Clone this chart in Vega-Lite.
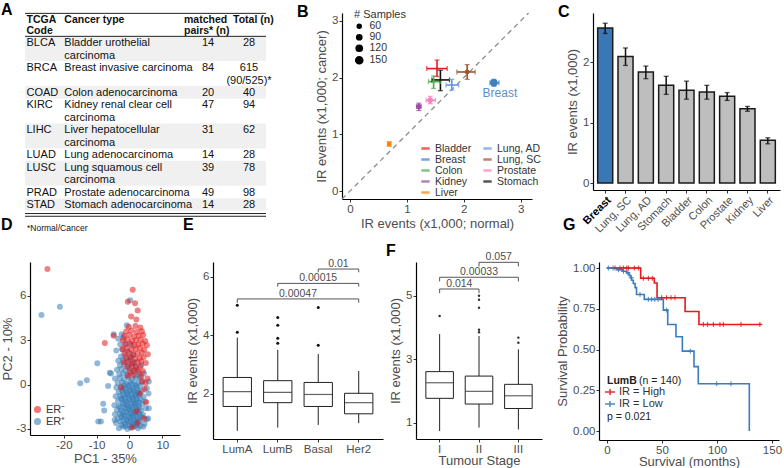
{
"$schema": "https://vega.github.io/schema/vega-lite/v6.json",
"background": "white",
"padding": {"left": 1, "top": 1, "right": 0, "bottom": 0},
"config": {
 "font": "Liberation Sans",
 "view": {"stroke": null},
 "axis": {"domainColor": "#000", "domainWidth": 1.2, "tickColor": "#333", "tickSize": 3, "tickWidth": 1, "labelColor": "#4d4d4d", "labelFontSize": 11.5, "labelPadding": 1, "labelFlush": false, "labelOverlap": false, "titleFontSize": 13, "titleFontWeight": "normal", "titleColor": "#4d4d4d", "titlePadding": 3, "grid": false},
 "legend": {"labelColor": "#333", "labelFontSize": 11, "titleColor": "#333", "titleFontSize": 11, "titleFontWeight": "normal"},
 "title": {"fontSize": 16, "fontWeight": "bold", "anchor": "start", "frame": "group", "offset": 0, "baseline": "alphabetic", "color": "#000"}
},
"datasets": {
 "hdr": [
  {"t": "TCGA", "col": "code", "pos": -1.84}, {"t": "Code", "col": "code", "pos": -0.99},
  {"t": "Cancer type", "col": "type", "pos": -1.84},
  {"t": "matched", "col": "pairs", "pos": -1.84}, {"t": "pairs* (n)", "col": "pairs", "pos": -0.99},
  {"t": "Total (n)", "col": "total", "pos": -1.84}
 ],
 "tcga": [
  {"code": "BLCA", "n1": "Bladder urothelial", "n2": "carcinoma", "pairs": 14, "t1": "28", "t2": "", "line": 0},
  {"code": "BRCA", "n1": "Breast invasive carcinoma", "n2": "", "pairs": 84, "t1": "615", "t2": "(90/525)*", "line": 2},
  {"code": "COAD", "n1": "Colon adenocarcinoma", "n2": "", "pairs": 20, "t1": "40", "t2": "", "line": 4},
  {"code": "KIRC", "n1": "Kidney renal clear cell", "n2": "carcinoma", "pairs": 47, "t1": "94", "t2": "", "line": 5},
  {"code": "LIHC", "n1": "Liver hepatocellular", "n2": "carcinoma", "pairs": 31, "t1": "62", "t2": "", "line": 7},
  {"code": "LUAD", "n1": "Lung adenocarcinoma", "n2": "", "pairs": 14, "t1": "28", "t2": "", "line": 9},
  {"code": "LUSC", "n1": "Lung squamous cell", "n2": "carcinoma", "pairs": 39, "t1": "78", "t2": "", "line": 10},
  {"code": "PRAD", "n1": "Prostate adenocarcinoma", "n2": "", "pairs": 49, "t1": "98", "t2": "", "line": 12},
  {"code": "STAD", "n1": "Stomach adenocarcinoma", "n2": "", "pairs": 14, "t1": "28", "t2": "", "line": 13}
 ],
 "bdat": [
  {"type": "Bladder", "nx": 1.53, "nxlo": 1.35, "nxhi": 1.71, "cy": 2.16, "cylo": 2.02, "cyhi": 2.31, "n": 28},
  {"type": "Breast", "nx": 2.53, "nxlo": 2.46, "nxhi": 2.62, "cy": 1.91, "cylo": 1.85, "cyhi": 1.97, "n": 168},
  {"type": "Colon", "nx": 1.47, "nxlo": 1.38, "nxhi": 1.59, "cy": 1.93, "cylo": 1.81, "cyhi": 2.03, "n": 40},
  {"type": "Kidney", "nx": 1.21, "nxlo": 1.17, "nxhi": 1.25, "cy": 1.49, "cylo": 1.42, "cyhi": 1.55, "n": 94},
  {"type": "Liver", "nx": 0.69, "nxlo": 0.66, "nxhi": 0.72, "cy": 0.83, "cylo": 0.79, "cyhi": 0.87, "n": 62},
  {"type": "Lung, AD", "nx": 1.79, "nxlo": 1.69, "nxhi": 1.91, "cy": 1.87, "cylo": 1.78, "cyhi": 1.97, "n": 28},
  {"type": "Lung, SC", "nx": 2.06, "nxlo": 1.88, "nxhi": 2.2, "cy": 2.1, "cylo": 1.97, "cyhi": 2.23, "n": 78},
  {"type": "Prostate", "nx": 1.41, "nxlo": 1.34, "nxhi": 1.5, "cy": 1.6, "cylo": 1.54, "cyhi": 1.67, "n": 98},
  {"type": "Stomach", "nx": 1.59, "nxlo": 1.44, "nxhi": 1.75, "cy": 1.96, "cylo": 1.77, "cyhi": 2.13, "n": 28}
 ],
 "cdat": [
  {"type": "Breast", "v": 2.57, "lo": 2.48, "hi": 2.65},
  {"type": "Lung, SC", "v": 2.1, "lo": 1.95, "hi": 2.24},
  {"type": "Lung, AD", "v": 1.84, "lo": 1.73, "hi": 1.94},
  {"type": "Stomach", "v": 1.62, "lo": 1.47, "hi": 1.77},
  {"type": "Bladder", "v": 1.54, "lo": 1.39, "hi": 1.69},
  {"type": "Colon", "v": 1.51, "lo": 1.39, "hi": 1.62},
  {"type": "Prostate", "v": 1.44, "lo": 1.37, "hi": 1.5},
  {"type": "Kidney", "v": 1.23, "lo": 1.19, "hi": 1.27},
  {"type": "Liver", "v": 0.71, "lo": 0.65, "hi": 0.75}
 ],
 "pca": [
  {"pc1":-3.2,"pc2":-2.95,"er":"ER⁺"},{"pc1":-1.8,"pc2":-2.85,"er":"ER⁺"},{"pc1":-0.6,"pc2":-3.0,"er":"ER⁺"},{"pc1":0.4,"pc2":-2.9,"er":"ER⁺"},{"pc1":1.5,"pc2":-2.8,"er":"ER⁺"},{"pc1":2.6,"pc2":-2.95,"er":"ER⁺"},{"pc1":4.2,"pc2":-2.85,"er":"ER⁺"},
  {"pc1":-4.1,"pc2":-2.6,"er":"ER⁺"},{"pc1":-2.7,"pc2":-2.5,"er":"ER⁺"},{"pc1":-1.3,"pc2":-2.65,"er":"ER⁺"},{"pc1":-0.2,"pc2":-2.55,"er":"ER⁺"},{"pc1":0.9,"pc2":-2.7,"er":"ER⁺"},{"pc1":2.0,"pc2":-2.6,"er":"ER⁺"},{"pc1":3.1,"pc2":-2.5,"er":"ER⁺"},{"pc1":4.6,"pc2":-2.65,"er":"ER⁺"},
  {"pc1":-3.6,"pc2":-2.3,"er":"ER⁺"},{"pc1":-2.2,"pc2":-2.2,"er":"ER⁺"},{"pc1":-0.9,"pc2":-2.35,"er":"ER⁺"},{"pc1":0.3,"pc2":-2.25,"er":"ER⁺"},{"pc1":1.4,"pc2":-2.4,"er":"ER⁺"},{"pc1":2.5,"pc2":-2.3,"er":"ER⁺"},{"pc1":3.8,"pc2":-2.2,"er":"ER⁺"},{"pc1":5.2,"pc2":-2.35,"er":"ER⁺"},
  {"pc1":-4.4,"pc2":-2.0,"er":"ER⁺"},{"pc1":-3.0,"pc2":-1.95,"er":"ER⁺"},{"pc1":-1.7,"pc2":-2.05,"er":"ER⁺"},{"pc1":-0.5,"pc2":-1.9,"er":"ER⁺"},{"pc1":0.6,"pc2":-2.1,"er":"ER⁺"},{"pc1":1.8,"pc2":-2.0,"er":"ER⁺"},{"pc1":2.9,"pc2":-1.9,"er":"ER⁺"},{"pc1":4.1,"pc2":-2.05,"er":"ER⁺"},
  {"pc1":-3.8,"pc2":-1.7,"er":"ER⁺"},{"pc1":-2.5,"pc2":-1.75,"er":"ER⁺"},{"pc1":-1.1,"pc2":-1.6,"er":"ER⁺"},{"pc1":0.1,"pc2":-1.7,"er":"ER⁺"},{"pc1":1.2,"pc2":-1.8,"er":"ER⁺"},{"pc1":2.3,"pc2":-1.65,"er":"ER⁺"},{"pc1":3.5,"pc2":-1.75,"er":"ER⁺"},{"pc1":5.0,"pc2":-1.6,"er":"ER⁺"},
  {"pc1":-4.6,"pc2":-1.4,"er":"ER⁺"},{"pc1":-3.2,"pc2":-1.45,"er":"ER⁺"},{"pc1":-2.0,"pc2":-1.3,"er":"ER⁺"},{"pc1":-0.7,"pc2":-1.4,"er":"ER⁺"},{"pc1":0.5,"pc2":-1.5,"er":"ER⁺"},{"pc1":1.6,"pc2":-1.35,"er":"ER⁺"},{"pc1":2.7,"pc2":-1.45,"er":"ER⁺"},{"pc1":3.9,"pc2":-1.3,"er":"ER⁺"},
  {"pc1":-3.5,"pc2":-1.1,"er":"ER⁺"},{"pc1":-2.3,"pc2":-1.0,"er":"ER⁺"},{"pc1":-1.0,"pc2":-1.15,"er":"ER⁺"},{"pc1":0.2,"pc2":-1.05,"er":"ER⁺"},{"pc1":1.3,"pc2":-1.2,"er":"ER⁺"},{"pc1":2.4,"pc2":-1.1,"er":"ER⁺"},{"pc1":3.4,"pc2":-1.0,"er":"ER⁺"},{"pc1":4.8,"pc2":-1.15,"er":"ER⁺"},
  {"pc1":-4.2,"pc2":-0.8,"er":"ER⁺"},{"pc1":-2.8,"pc2":-0.75,"er":"ER⁺"},{"pc1":-1.5,"pc2":-0.85,"er":"ER⁺"},{"pc1":-0.3,"pc2":-0.7,"er":"ER⁺"},{"pc1":0.8,"pc2":-0.9,"er":"ER⁺"},{"pc1":1.9,"pc2":-0.8,"er":"ER⁺"},{"pc1":3.0,"pc2":-0.7,"er":"ER⁺"},{"pc1":4.3,"pc2":-0.85,"er":"ER⁺"},
  {"pc1":-3.3,"pc2":-0.5,"er":"ER⁺"},{"pc1":-2.0,"pc2":-0.45,"er":"ER⁺"},{"pc1":-0.8,"pc2":-0.55,"er":"ER⁺"},{"pc1":0.4,"pc2":-0.4,"er":"ER⁺"},{"pc1":1.5,"pc2":-0.6,"er":"ER⁺"},{"pc1":2.6,"pc2":-0.5,"er":"ER⁺"},{"pc1":3.8,"pc2":-0.45,"er":"ER⁺"},
  {"pc1":-4.0,"pc2":-0.2,"er":"ER⁺"},{"pc1":-2.6,"pc2":-0.15,"er":"ER⁺"},{"pc1":-1.3,"pc2":-0.25,"er":"ER⁺"},{"pc1":-0.1,"pc2":-0.1,"er":"ER⁺"},{"pc1":1.0,"pc2":-0.3,"er":"ER⁺"},{"pc1":2.2,"pc2":-0.2,"er":"ER⁺"},{"pc1":3.3,"pc2":-0.1,"er":"ER⁺"},{"pc1":5.3,"pc2":-0.25,"er":"ER⁺"},
  {"pc1":-3.6,"pc2":0.1,"er":"ER⁺"},{"pc1":-2.2,"pc2":0.15,"er":"ER⁺"},{"pc1":-0.9,"pc2":0.05,"er":"ER⁺"},{"pc1":0.3,"pc2":0.2,"er":"ER⁺"},{"pc1":1.5,"pc2":0.0,"er":"ER⁺"},{"pc1":2.7,"pc2":0.1,"er":"ER⁺"},{"pc1":4.0,"pc2":0.2,"er":"ER⁺"},
  {"pc1":-4.4,"pc2":0.4,"er":"ER⁺"},{"pc1":-2.9,"pc2":0.45,"er":"ER⁺"},{"pc1":-1.6,"pc2":0.35,"er":"ER⁺"},{"pc1":-0.4,"pc2":0.5,"er":"ER⁺"},{"pc1":0.8,"pc2":0.3,"er":"ER⁺"},{"pc1":2.0,"pc2":0.4,"er":"ER⁺"},{"pc1":3.2,"pc2":0.5,"er":"ER⁺"},
  {"pc1":-3.1,"pc2":0.7,"er":"ER⁺"},{"pc1":-1.9,"pc2":0.75,"er":"ER⁺"},{"pc1":-0.7,"pc2":0.65,"er":"ER⁺"},{"pc1":0.5,"pc2":0.8,"er":"ER⁺"},{"pc1":1.7,"pc2":0.6,"er":"ER⁺"},{"pc1":2.9,"pc2":0.7,"er":"ER⁺"},{"pc1":4.4,"pc2":0.75,"er":"ER⁺"},
  {"pc1":-3.8,"pc2":1.0,"er":"ER⁺"},{"pc1":-2.4,"pc2":1.05,"er":"ER⁺"},{"pc1":-1.2,"pc2":0.95,"er":"ER⁺"},{"pc1":0.0,"pc2":1.1,"er":"ER⁺"},{"pc1":1.2,"pc2":0.9,"er":"ER⁺"},{"pc1":2.4,"pc2":1.0,"er":"ER⁺"},
  {"pc1":-2.9,"pc2":1.3,"er":"ER⁺"},{"pc1":-1.6,"pc2":1.35,"er":"ER⁺"},{"pc1":-0.4,"pc2":1.25,"er":"ER⁺"},{"pc1":0.8,"pc2":1.4,"er":"ER⁺"},{"pc1":1.9,"pc2":1.2,"er":"ER⁺"},{"pc1":3.6,"pc2":1.3,"er":"ER⁺"},
  {"pc1":-3.4,"pc2":1.6,"er":"ER⁺"},{"pc1":-2.0,"pc2":1.65,"er":"ER⁺"},{"pc1":-0.9,"pc2":1.55,"er":"ER⁺"},{"pc1":0.4,"pc2":1.7,"er":"ER⁺"},{"pc1":1.5,"pc2":1.5,"er":"ER⁺"},
  {"pc1":-2.6,"pc2":1.9,"er":"ER⁺"},{"pc1":-1.3,"pc2":1.95,"er":"ER⁺"},{"pc1":0.1,"pc2":1.85,"er":"ER⁺"},{"pc1":1.2,"pc2":2.0,"er":"ER⁺"},
  {"pc1":-4.0,"pc2":2.3,"er":"ER⁺"},{"pc1":-2.1,"pc2":2.35,"er":"ER⁺"},{"pc1":-0.6,"pc2":2.25,"er":"ER⁺"},
  {"pc1":-2.8,"pc2":2.7,"er":"ER⁺"},{"pc1":-1.1,"pc2":2.75,"er":"ER⁺"},{"pc1":0.6,"pc2":2.65,"er":"ER⁺"},
  {"pc1":-3.4,"pc2":3.1,"er":"ER⁺"},{"pc1":-1.8,"pc2":3.15,"er":"ER⁺"},{"pc1":-2.4,"pc2":3.4,"er":"ER⁺"},
  {"pc1":-2.4,"pc2":-2.75,"er":"ER⁺"},{"pc1":-1.2,"pc2":-2.8,"er":"ER⁺"},{"pc1":0.0,"pc2":-2.75,"er":"ER⁺"},{"pc1":1.1,"pc2":-2.85,"er":"ER⁺"},{"pc1":2.2,"pc2":-2.75,"er":"ER⁺"},{"pc1":3.3,"pc2":-2.8,"er":"ER⁺"},
  {"pc1":-1.9,"pc2":-2.45,"er":"ER⁺"},{"pc1":-0.7,"pc2":-2.45,"er":"ER⁺"},{"pc1":0.5,"pc2":-2.5,"er":"ER⁺"},{"pc1":1.6,"pc2":-2.5,"er":"ER⁺"},{"pc1":2.7,"pc2":-2.45,"er":"ER⁺"},
  {"pc1":-2.6,"pc2":-2.15,"er":"ER⁺"},{"pc1":-1.4,"pc2":-2.15,"er":"ER⁺"},{"pc1":-0.2,"pc2":-2.2,"er":"ER⁺"},{"pc1":1.0,"pc2":-2.15,"er":"ER⁺"},{"pc1":2.1,"pc2":-2.2,"er":"ER⁺"},{"pc1":3.3,"pc2":-2.15,"er":"ER⁺"},
  {"pc1":-2.0,"pc2":-1.85,"er":"ER⁺"},{"pc1":-0.9,"pc2":-1.85,"er":"ER⁺"},{"pc1":0.3,"pc2":-1.9,"er":"ER⁺"},{"pc1":1.4,"pc2":-1.9,"er":"ER⁺"},{"pc1":2.6,"pc2":-1.85,"er":"ER⁺"},
  {"pc1":-2.9,"pc2":-1.55,"er":"ER⁺"},{"pc1":-1.5,"pc2":-1.55,"er":"ER⁺"},{"pc1":-0.3,"pc2":-1.55,"er":"ER⁺"},{"pc1":0.9,"pc2":-1.6,"er":"ER⁺"},{"pc1":2.0,"pc2":-1.55,"er":"ER⁺"},{"pc1":3.1,"pc2":-1.55,"er":"ER⁺"},
  {"pc1":-1.8,"pc2":-1.25,"er":"ER⁺"},{"pc1":-0.5,"pc2":-1.25,"er":"ER⁺"},{"pc1":0.7,"pc2":-1.3,"er":"ER⁺"},{"pc1":1.9,"pc2":-1.25,"er":"ER⁺"},{"pc1":3.0,"pc2":-1.2,"er":"ER⁺"},
  {"pc1":-2.6,"pc2":-0.95,"er":"ER⁺"},{"pc1":-1.3,"pc2":-0.95,"er":"ER⁺"},{"pc1":-0.1,"pc2":-0.95,"er":"ER⁺"},{"pc1":1.1,"pc2":-1.0,"er":"ER⁺"},{"pc1":2.2,"pc2":-0.95,"er":"ER⁺"},
  {"pc1":-1.9,"pc2":-0.65,"er":"ER⁺"},{"pc1":-0.6,"pc2":-0.65,"er":"ER⁺"},{"pc1":0.6,"pc2":-0.65,"er":"ER⁺"},{"pc1":1.7,"pc2":-0.7,"er":"ER⁺"},{"pc1":2.9,"pc2":-0.6,"er":"ER⁺"},
  {"pc1":-2.4,"pc2":-0.35,"er":"ER⁺"},{"pc1":-1.1,"pc2":-0.35,"er":"ER⁺"},{"pc1":0.1,"pc2":-0.35,"er":"ER⁺"},{"pc1":1.3,"pc2":-0.4,"er":"ER⁺"},{"pc1":2.5,"pc2":-0.35,"er":"ER⁺"},
  {"pc1":-1.7,"pc2":-0.05,"er":"ER⁺"},{"pc1":-0.5,"pc2":-0.05,"er":"ER⁺"},{"pc1":0.8,"pc2":0.0,"er":"ER⁺"},{"pc1":2.0,"pc2":-0.05,"er":"ER⁺"},
  {"pc1":5.9,"pc2":0.2,"er":"ER⁺"},{"pc1":5.8,"pc2":-0.6,"er":"ER⁺"},{"pc1":5.9,"pc2":-1.6,"er":"ER⁺"},{"pc1":5.7,"pc2":-2.3,"er":"ER⁺"},
  {"pc1":-26.8,"pc2":4.7,"er":"ER⁺"},{"pc1":-21.2,"pc2":5.25,"er":"ER⁺"},{"pc1":-9.8,"pc2":1.44,"er":"ER⁺"},{"pc1":-15,"pc2":0.09,"er":"ER⁺"},{"pc1":-13,"pc2":0.29,"er":"ER⁺"},{"pc1":-4.8,"pc2":3.4,"er":"ER⁺"},{"pc1":-6,"pc2":0.8,"er":"ER⁺"},{"pc1":-5.6,"pc2":0.75,"er":"ER⁺"},{"pc1":-6.5,"pc2":-0.1,"er":"ER⁺"},{"pc1":-8,"pc2":-1.3,"er":"ER⁺"},{"pc1":-7.7,"pc2":-1.75,"er":"ER⁺"},{"pc1":-9.5,"pc2":-2.5,"er":"ER⁺"},{"pc1":-8.7,"pc2":-2.5,"er":"ER⁺"},{"pc1":-4.5,"pc2":-2.4,"er":"ER⁺"},{"pc1":-0.8,"pc2":4.0,"er":"ER⁺"},{"pc1":0.2,"pc2":5.7,"er":"ER⁺"},
  {"pc1":-25,"pc2":7.8,"er":"ER⁻"},{"pc1":1,"pc2":6.4,"er":"ER⁻"},{"pc1":-0.5,"pc2":5.6,"er":"ER⁻"},{"pc1":1.7,"pc2":5.5,"er":"ER⁻"},{"pc1":2.5,"pc2":5.0,"er":"ER⁻"},{"pc1":0.5,"pc2":4.6,"er":"ER⁻"},{"pc1":2.1,"pc2":4.4,"er":"ER⁻"},{"pc1":-7.5,"pc2":2.8,"er":"ER⁻"},{"pc1":-4.8,"pc2":3.3,"er":"ER⁻"},
  {"pc1":-0.2,"pc2":3.9,"er":"ER⁻"},{"pc1":1.8,"pc2":3.95,"er":"ER⁻"},{"pc1":3.3,"pc2":3.85,"er":"ER⁻"},
  {"pc1":-1.0,"pc2":3.6,"er":"ER⁻"},{"pc1":0.6,"pc2":3.65,"er":"ER⁻"},{"pc1":2.2,"pc2":3.55,"er":"ER⁻"},{"pc1":3.8,"pc2":3.6,"er":"ER⁻"},
  {"pc1":-1.6,"pc2":3.3,"er":"ER⁻"},{"pc1":0.0,"pc2":3.35,"er":"ER⁻"},{"pc1":1.4,"pc2":3.25,"er":"ER⁻"},{"pc1":2.8,"pc2":3.3,"er":"ER⁻"},{"pc1":4.2,"pc2":3.35,"er":"ER⁻"},
  {"pc1":-2.0,"pc2":3.0,"er":"ER⁻"},{"pc1":-0.6,"pc2":3.05,"er":"ER⁻"},{"pc1":0.8,"pc2":2.95,"er":"ER⁻"},{"pc1":2.0,"pc2":3.0,"er":"ER⁻"},{"pc1":3.4,"pc2":3.05,"er":"ER⁻"},{"pc1":4.8,"pc2":2.95,"er":"ER⁻"},
  {"pc1":-1.3,"pc2":2.7,"er":"ER⁻"},{"pc1":0.2,"pc2":2.75,"er":"ER⁻"},{"pc1":1.5,"pc2":2.65,"er":"ER⁻"},{"pc1":2.7,"pc2":2.7,"er":"ER⁻"},{"pc1":4.0,"pc2":2.75,"er":"ER⁻"},{"pc1":5.3,"pc2":2.65,"er":"ER⁻"},
  {"pc1":-2.2,"pc2":2.4,"er":"ER⁻"},{"pc1":-0.8,"pc2":2.45,"er":"ER⁻"},{"pc1":0.6,"pc2":2.35,"er":"ER⁻"},{"pc1":1.9,"pc2":2.4,"er":"ER⁻"},{"pc1":3.2,"pc2":2.45,"er":"ER⁻"},{"pc1":4.5,"pc2":2.35,"er":"ER⁻"},
  {"pc1":-1.5,"pc2":2.1,"er":"ER⁻"},{"pc1":-0.1,"pc2":2.15,"er":"ER⁻"},{"pc1":1.2,"pc2":2.05,"er":"ER⁻"},{"pc1":2.5,"pc2":2.1,"er":"ER⁻"},{"pc1":3.8,"pc2":2.15,"er":"ER⁻"},{"pc1":5.6,"pc2":2.05,"er":"ER⁻"},
  {"pc1":-0.9,"pc2":1.8,"er":"ER⁻"},{"pc1":0.5,"pc2":1.85,"er":"ER⁻"},{"pc1":1.8,"pc2":1.75,"er":"ER⁻"},{"pc1":3.1,"pc2":1.8,"er":"ER⁻"},{"pc1":4.3,"pc2":1.85,"er":"ER⁻"},
  {"pc1":-1.8,"pc2":1.5,"er":"ER⁻"},{"pc1":-0.3,"pc2":1.55,"er":"ER⁻"},{"pc1":1.0,"pc2":1.45,"er":"ER⁻"},{"pc1":2.4,"pc2":1.5,"er":"ER⁻"},{"pc1":3.6,"pc2":1.55,"er":"ER⁻"},{"pc1":5.0,"pc2":1.45,"er":"ER⁻"},
  {"pc1":-0.7,"pc2":1.2,"er":"ER⁻"},{"pc1":0.7,"pc2":1.25,"er":"ER⁻"},{"pc1":2.0,"pc2":1.15,"er":"ER⁻"},{"pc1":3.3,"pc2":1.2,"er":"ER⁻"},
  {"pc1":0.1,"pc2":0.9,"er":"ER⁻"},{"pc1":1.5,"pc2":0.95,"er":"ER⁻"},{"pc1":2.8,"pc2":0.85,"er":"ER⁻"},{"pc1":4.1,"pc2":0.9,"er":"ER⁻"},
  {"pc1":-0.4,"pc2":0.6,"er":"ER⁻"},{"pc1":1.1,"pc2":0.65,"er":"ER⁻"},{"pc1":3.6,"pc2":0.55,"er":"ER⁻"},
  {"pc1":4.6,"pc2":-0.3,"er":"ER⁻"},{"pc1":5.1,"pc2":-1.2,"er":"ER⁻"},{"pc1":3.2,"pc2":-0.6,"er":"ER⁻"},{"pc1":2.1,"pc2":-1.8,"er":"ER⁻"},{"pc1":4.4,"pc2":-2.3,"er":"ER⁻"},{"pc1":0.8,"pc2":-2.9,"er":"ER⁻"},{"pc1":3.8,"pc2":0.2,"er":"ER⁻"},{"pc1":-2.5,"pc2":-0.2,"er":"ER⁻"},{"pc1":2.5,"pc2":-2.6,"er":"ER⁻"},{"pc1":5.5,"pc2":0.4,"er":"ER⁻"},{"pc1":4.9,"pc2":0.1,"er":"ER⁻"}
 ],
 "ebox": [
  {"cat": "LumA", "lo": 0.74, "q1": 1.57, "med": 2.08, "q3": 2.56, "hi": 3.92},
  {"cat": "LumB", "lo": 0.85, "q1": 1.7, "med": 2.05, "q3": 2.45, "hi": 3.5},
  {"cat": "Basal", "lo": 0.94, "q1": 1.57, "med": 1.98, "q3": 2.39, "hi": 3.36},
  {"cat": "Her2", "lo": 1.0, "q1": 1.32, "med": 1.7, "q3": 2.02, "hi": 2.78}
 ],
 "eout": [
  {"cat": "LumA", "v": 4.1}, {"cat": "LumA", "v": 5.02},
  {"cat": "LumB", "v": 3.73}, {"cat": "LumB", "v": 3.9}, {"cat": "LumB", "v": 4.34}, {"cat": "LumB", "v": 4.61},
  {"cat": "Basal", "v": 3.66}, {"cat": "Basal", "v": 4.95}
 ],
 "esig": [
  {"from": "Basal", "to": "Her2", "y": 6.26, "yend": 6.15, "label": "0.01", "mid": "Basal", "between": true},
  {"from": "LumB", "to": "Her2", "y": 5.77, "yend": 5.66, "label": "0.00015", "mid": "Basal", "between": false},
  {"from": "LumA", "to": "Her2", "y": 5.24, "yend": 5.11, "label": "0.00047", "mid": "LumB", "between": true}
 ],
 "fbox": [
  {"cat": "I", "lo": 0.74, "q1": 1.77, "med": 2.26, "q3": 2.61, "hi": 3.79},
  {"cat": "II", "lo": 0.85, "q1": 1.59, "med": 1.99, "q3": 2.47, "hi": 3.73},
  {"cat": "III", "lo": 0.79, "q1": 1.45, "med": 1.85, "q3": 2.21, "hi": 3.31}
 ],
 "fout": [
  {"cat": "I", "v": 4.36},
  {"cat": "II", "v": 3.85}, {"cat": "II", "v": 3.93}, {"cat": "II", "v": 4.62}, {"cat": "II", "v": 4.87}, {"cat": "II", "v": 5.0},
  {"cat": "III", "v": 3.52}, {"cat": "III", "v": 3.68}
 ],
 "fsig": [
  {"from": "II", "to": "III", "y": 6.05, "yend": 5.92, "label": "0.057", "mid": "II", "between": true},
  {"from": "I", "to": "III", "y": 5.58, "yend": 5.45, "label": "0.00033", "mid": "II", "between": false},
  {"from": "I", "to": "II", "y": 5.21, "yend": 5.08, "label": "0.014", "mid": "I", "between": true}
 ],
 "km": [
  {"grp": "IR = High", "t": 0, "s": 1}, {"grp": "IR = High", "t": 30.6, "s": 0.937}, {"grp": "IR = High", "t": 43, "s": 0.908}, {"grp": "IR = High", "t": 45.5, "s": 0.818}, {"grp": "IR = High", "t": 71, "s": 0.733}, {"grp": "IR = High", "t": 83.6, "s": 0.654}, {"grp": "IR = High", "t": 140.6, "s": 0.654},
  {"grp": "IR = Low", "t": 0, "s": 1}, {"grp": "IR = Low", "t": 9, "s": 0.99}, {"grp": "IR = Low", "t": 14, "s": 0.98}, {"grp": "IR = Low", "t": 18, "s": 0.97}, {"grp": "IR = Low", "t": 20, "s": 0.955}, {"grp": "IR = Low", "t": 21.5, "s": 0.94}, {"grp": "IR = Low", "t": 22.4, "s": 0.925}, {"grp": "IR = Low", "t": 23.9, "s": 0.905}, {"grp": "IR = Low", "t": 25.5, "s": 0.88}, {"grp": "IR = Low", "t": 26.8, "s": 0.838}, {"grp": "IR = Low", "t": 33.9, "s": 0.808}, {"grp": "IR = Low", "t": 51.2, "s": 0.742}, {"grp": "IR = Low", "t": 55.2, "s": 0.654}, {"grp": "IR = Low", "t": 62.7, "s": 0.578}, {"grp": "IR = Low", "t": 68.5, "s": 0.49}, {"grp": "IR = Low", "t": 79.1, "s": 0.395}, {"grp": "IR = Low", "t": 83, "s": 0.29}, {"grp": "IR = Low", "t": 129.4, "s": 0}
 ],
 "cens": [
  {"grp": "IR = High", "t": 7.3, "s": 1}, {"grp": "IR = High", "t": 11.8, "s": 1}, {"grp": "IR = High", "t": 14.8, "s": 1}, {"grp": "IR = High", "t": 17.9, "s": 1}, {"grp": "IR = High", "t": 19.4, "s": 1}, {"grp": "IR = High", "t": 24.8, "s": 1}, {"grp": "IR = High", "t": 28.5, "s": 1},
  {"grp": "IR = High", "t": 33, "s": 0.937}, {"grp": "IR = High", "t": 37.6, "s": 0.937}, {"grp": "IR = High", "t": 41.2, "s": 0.937},
  {"grp": "IR = High", "t": 49.7, "s": 0.818}, {"grp": "IR = High", "t": 54.2, "s": 0.818}, {"grp": "IR = High", "t": 58.2, "s": 0.818}, {"grp": "IR = High", "t": 61.8, "s": 0.818},
  {"grp": "IR = High", "t": 87.6, "s": 0.654}, {"grp": "IR = High", "t": 91.5, "s": 0.654}, {"grp": "IR = High", "t": 96.7, "s": 0.654}, {"grp": "IR = High", "t": 102.7, "s": 0.654}, {"grp": "IR = High", "t": 105.8, "s": 0.654}, {"grp": "IR = High", "t": 121.8, "s": 0.654}, {"grp": "IR = High", "t": 139, "s": 0.654},
  {"grp": "IR = Low", "t": 1.2, "s": 1}, {"grp": "IR = Low", "t": 5.5, "s": 1}, {"grp": "IR = Low", "t": 10.5, "s": 0.99}, {"grp": "IR = Low", "t": 15, "s": 0.98}, {"grp": "IR = Low", "t": 19, "s": 0.97}, {"grp": "IR = Low", "t": 22, "s": 0.94},
  {"grp": "IR = Low", "t": 30, "s": 0.838}, {"grp": "IR = Low", "t": 37.6, "s": 0.808}, {"grp": "IR = Low", "t": 40.6, "s": 0.808}, {"grp": "IR = Low", "t": 43.5, "s": 0.808}, {"grp": "IR = Low", "t": 46.5, "s": 0.808},
  {"grp": "IR = Low", "t": 54.2, "s": 0.742}, {"grp": "IR = Low", "t": 75.7, "s": 0.49}, {"grp": "IR = Low", "t": 99.7, "s": 0.29}, {"grp": "IR = Low", "t": 112.7, "s": 0.29}
 ]
},
"resolve": {"scale": {"color": "independent", "size": "independent", "fill": "independent"}, "legend": {"color": "independent", "size": "independent"}},
"bounds": "flush",
"spacing": 249,
"vconcat": [
 {"hconcat": [
  {"width": 251, "height": 219,
   "title": {"text": "A", "dx": -29, "dy": 9},
   "layer": [
    {"data": {"values": [{"first": 0, "last": 1}, {"first": 4, "last": 4}, {"first": 7, "last": 8}, {"first": 10, "last": 11}, {"first": 13, "last": 13}]},
     "mark": {"type": "rect", "color": "#f0f0f0", "yOffset": -10, "y2Offset": 2.5},
     "encoding": {
      "x": {"datum": 25, "type": "quantitative", "scale": {"domain": [30, 281], "nice": false, "zero": false}, "axis": null},
      "x2": {"datum": 266},
      "y": {"field": "first", "type": "quantitative", "scale": {"domain": [-2.65, 14.9], "nice": false, "zero": false, "reverse": true}, "axis": null},
      "y2": {"field": "last"}}},
    {"data": {"values": [{"pos": -2.62}, {"pos": -0.78}, {"pos": 13.42}, {"pos": 13.64}]},
     "mark": {"type": "rule", "color": "#222", "strokeWidth": 1},
     "encoding": {"x": {"datum": 25, "type": "quantitative"}, "x2": {"datum": 266}, "y": {"field": "pos", "type": "quantitative"}}},
    {"data": {"name": "hdr"}, "transform": [{"filter": "datum.col === 'code'"}],
     "mark": {"type": "text", "align": "left", "baseline": "alphabetic", "fontWeight": "bold", "fontSize": 10.5, "color": "#111"},
     "encoding": {"x": {"datum": 26.5, "type": "quantitative"}, "y": {"field": "pos", "type": "quantitative"}, "text": {"field": "t"}}},
    {"data": {"name": "hdr"}, "transform": [{"filter": "datum.col === 'type'"}],
     "mark": {"type": "text", "align": "left", "baseline": "alphabetic", "fontWeight": "bold", "fontSize": 10.5, "color": "#111"},
     "encoding": {"x": {"datum": 64.3, "type": "quantitative"}, "y": {"field": "pos", "type": "quantitative"}, "text": {"field": "t"}}},
    {"data": {"name": "hdr"}, "transform": [{"filter": "datum.col === 'pairs'"}],
     "mark": {"type": "text", "align": "left", "baseline": "alphabetic", "fontWeight": "bold", "fontSize": 10.5, "color": "#111"},
     "encoding": {"x": {"datum": 184, "type": "quantitative"}, "y": {"field": "pos", "type": "quantitative"}, "text": {"field": "t"}}},
    {"data": {"name": "hdr"}, "transform": [{"filter": "datum.col === 'total'"}],
     "mark": {"type": "text", "align": "left", "baseline": "alphabetic", "fontWeight": "bold", "fontSize": 10.5, "color": "#111"},
     "encoding": {"x": {"datum": 233, "type": "quantitative"}, "y": {"field": "pos", "type": "quantitative"}, "text": {"field": "t"}}},
    {"data": {"name": "tcga"},
     "mark": {"type": "text", "align": "left", "baseline": "alphabetic", "fontSize": 11, "color": "#111"},
     "encoding": {"x": {"datum": 26.5, "type": "quantitative"}, "y": {"field": "line", "type": "quantitative"}, "text": {"field": "code"}}},
    {"data": {"name": "tcga"},
     "mark": {"type": "text", "align": "left", "baseline": "alphabetic", "fontSize": 11, "color": "#111"},
     "encoding": {"x": {"datum": 64.3, "type": "quantitative"}, "y": {"field": "line", "type": "quantitative"}, "text": {"field": "n1"}}},
    {"data": {"name": "tcga"},
     "mark": {"type": "text", "align": "left", "baseline": "alphabetic", "fontSize": 11, "color": "#111", "dy": 12.48},
     "encoding": {"x": {"datum": 64.3, "type": "quantitative"}, "y": {"field": "line", "type": "quantitative"}, "text": {"field": "n2"}}},
    {"data": {"name": "tcga"},
     "mark": {"type": "text", "align": "center", "baseline": "alphabetic", "fontSize": 11, "color": "#111"},
     "encoding": {"x": {"datum": 208, "type": "quantitative"}, "y": {"field": "line", "type": "quantitative"}, "text": {"field": "pairs"}}},
    {"data": {"name": "tcga"},
     "mark": {"type": "text", "align": "center", "baseline": "alphabetic", "fontSize": 11, "color": "#111"},
     "encoding": {"x": {"datum": 249, "type": "quantitative"}, "y": {"field": "line", "type": "quantitative"}, "text": {"field": "t1"}}},
    {"data": {"name": "tcga"},
     "mark": {"type": "text", "align": "center", "baseline": "alphabetic", "fontSize": 11, "color": "#111", "dy": 12.48},
     "encoding": {"x": {"datum": 249, "type": "quantitative"}, "y": {"field": "line", "type": "quantitative"}, "text": {"field": "t2"}}},
    {"data": {"values": [{"t": "*Normal/Cancer"}]},
     "mark": {"type": "text", "align": "left", "baseline": "alphabetic", "fontSize": 8.5, "color": "#111"},
     "encoding": {"x": {"datum": 27, "type": "quantitative"}, "y": {"datum": 14.8, "type": "quantitative"}, "text": {"field": "t"}}}
   ]},
  {"width": 190, "height": 186,
   "title": {"text": "B", "dx": -45, "dy": 15},
   "data": {"name": "bdat"},
   "layer": [
    {"data": {"values": [{"d": -0.14}, {"d": 3.14}]},
     "mark": {"type": "line", "color": "#8c8c8c", "strokeDash": [5, 4], "strokeWidth": 1.3},
     "encoding": {
      "x": {"field": "d", "type": "quantitative", "scale": {"domain": [-0.14, 3.2], "nice": false, "zero": false}, "axis": {"title": "IR events (x1,000; normal)", "values": [0, 1, 2, 3], "format": "d"}},
      "y": {"field": "d", "type": "quantitative", "scale": {"domain": [-0.14, 3.14], "nice": false, "zero": false}, "axis": {"title": "IR events (x1,000; cancer)", "values": [0, 1, 2, 3], "format": "d"}}}},
    {"mark": {"type": "rule", "strokeWidth": 1.6},
     "encoding": {
      "x": {"field": "nxlo", "type": "quantitative"}, "x2": {"field": "nxhi"},
      "y": {"field": "cy", "type": "quantitative"},
      "color": {"field": "type", "type": "nominal",
       "scale": {"domain": ["Bladder", "Breast", "Colon", "Kidney", "Liver", "Lung, AD", "Lung, SC", "Prostate", "Stomach"],
                 "range": ["#E41A1C", "#3F7FBF", "#4DAF4A", "#984EA3", "#FF7F00", "#6495ED", "#A0522D", "#F781BF", "#111111"]},
       "legend": {"title": null, "orient": "none", "legendX": 78, "legendY": 130, "columns": 2, "symbolType": "stroke", "symbolStrokeWidth": 2.5, "symbolSize": 70, "labelFontSize": 10.5, "rowPadding": -3.5, "columnPadding": 6, "labelOffset": 4}}}},
    {"mark": {"type": "rule", "strokeWidth": 1.6},
     "encoding": {"x": {"field": "nx", "type": "quantitative"}, "y": {"field": "cylo", "type": "quantitative"}, "y2": {"field": "cyhi"}, "color": {"field": "type", "type": "nominal"}}},
    {"mark": {"type": "tick", "orient": "vertical", "size": 5, "thickness": 1.3},
     "encoding": {"x": {"field": "nxlo", "type": "quantitative"}, "y": {"field": "cy", "type": "quantitative"}, "color": {"field": "type", "type": "nominal"}}},
    {"mark": {"type": "tick", "orient": "vertical", "size": 5, "thickness": 1.3},
     "encoding": {"x": {"field": "nxhi", "type": "quantitative"}, "y": {"field": "cy", "type": "quantitative"}, "color": {"field": "type", "type": "nominal"}}},
    {"mark": {"type": "tick", "orient": "horizontal", "size": 5, "thickness": 1.3},
     "encoding": {"x": {"field": "nx", "type": "quantitative"}, "y": {"field": "cylo", "type": "quantitative"}, "color": {"field": "type", "type": "nominal"}}},
    {"mark": {"type": "tick", "orient": "horizontal", "size": 5, "thickness": 1.3},
     "encoding": {"x": {"field": "nx", "type": "quantitative"}, "y": {"field": "cyhi", "type": "quantitative"}, "color": {"field": "type", "type": "nominal"}}},
    {"mark": {"type": "point", "filled": true, "opacity": 1},
     "encoding": {"x": {"field": "nx", "type": "quantitative"}, "y": {"field": "cy", "type": "quantitative"}, "color": {"field": "type", "type": "nominal"},
      "size": {"field": "n", "type": "quantitative", "scale": {"domain": [20, 170], "range": [0.5, 58]},
       "legend": {"title": "# Samples", "orient": "none", "legendX": 12, "legendY": -4, "values": [60, 90, 120, 150], "symbolFillColor": "#000", "symbolStrokeColor": "#000", "symbolOpacity": 1, "symbolType": "circle", "labelFontSize": 10.5, "rowPadding": -3.5, "titlePadding": 1, "labelOffset": 5}}}},
    {"transform": [{"filter": "datum.type === 'Breast'"}],
     "mark": {"type": "text", "dx": 6, "dy": 14, "align": "center", "baseline": "alphabetic", "fontSize": 12, "color": "#5B8FC9"},
     "encoding": {"x": {"field": "nx", "type": "quantitative"}, "y": {"field": "cy", "type": "quantitative"}, "text": {"field": "type"}}}
   ]},
  {"width": 187, "height": 177,
   "title": {"text": "C", "dx": -35, "dy": 11},
   "data": {"name": "cdat"},
   "layer": [
    {"mark": {"type": "bar", "stroke": "#1a1a1a", "strokeWidth": 1.5, "width": {"band": 0.74}},
     "encoding": {
      "x": {"field": "type", "type": "nominal", "sort": null, "scale": {"paddingInner": 0, "paddingOuter": 0.1},
       "axis": {"title": null, "labelAngle": -45, "labelFontSize": 11,
        "labelFontWeight": {"condition": {"test": "datum.value === 'Breast'", "value": "bold"}, "value": "normal"},
        "labelColor": {"condition": {"test": "datum.value === 'Breast'", "value": "#000"}, "value": "#4d4d4d"}}},
      "y": {"field": "v", "type": "quantitative", "scale": {"domain": [-0.116, 2.82], "nice": false, "zero": false}, "axis": {"title": "IR events (x1,000)", "values": [0, 1, 2], "format": "d"}},
      "fill": {"condition": {"test": "datum.type === 'Breast'", "value": "#3A78B5"}, "value": "#BEBEBE"}}},
    {"mark": {"type": "rule", "color": "#111", "strokeWidth": 1.5},
     "encoding": {"x": {"field": "type", "type": "nominal", "sort": null}, "y": {"field": "lo", "type": "quantitative"}, "y2": {"field": "hi"}}},
    {"mark": {"type": "tick", "orient": "horizontal", "size": 5, "thickness": 1.3, "color": "#111"},
     "encoding": {"x": {"field": "type", "type": "nominal", "sort": null}, "y": {"field": "lo", "type": "quantitative"}}},
    {"mark": {"type": "tick", "orient": "horizontal", "size": 5, "thickness": 1.3, "color": "#111"},
     "encoding": {"x": {"field": "type", "type": "nominal", "sort": null}, "y": {"field": "hi", "type": "quantitative"}}}
   ]}
 ], "spacing": 61, "bounds": "flush",
 "resolve": {"scale": {"color": "independent", "size": "independent", "fill": "independent"}, "legend": {"color": "independent", "size": "independent"}}},
 {"hconcat": [
  {"hconcat": [
   {"width": 150, "height": 173,
    "title": {"text": "D", "dx": -29, "dy": -25},
    "data": {"name": "pca"},
    "mark": {"type": "circle", "size": 36, "opacity": 0.55},
    "encoding": {
     "x": {"field": "pc1", "type": "quantitative", "scale": {"domain": [-30.3, 15.4], "nice": false, "zero": false}, "axis": {"title": "PC1 - 35%", "values": [-20, -10, 0, 10], "titlePadding": 2, "labelExpr": "replace(datum.label, '−', '-')"}},
     "y": {"field": "pc2", "type": "quantitative", "scale": {"domain": [-3.41, 8.28], "nice": false, "zero": false}, "axis": {"title": "PC2 - 10%", "values": [-3, 0, 3, 6], "titlePadding": 1, "labelOverlap": false, "labelExpr": "replace(datum.label, '−', '-')"}},
     "color": {"field": "er", "type": "nominal", "scale": {"domain": ["ER⁻", "ER⁺"], "range": ["#E41A1C", "#377EB8"]},
      "legend": {"title": null, "orient": "none", "legendX": 2, "legendY": 142, "symbolOpacity": 0.6, "symbolSize": 50, "labelFontSize": 11, "rowPadding": 0, "labelOffset": 3}}}},
   {"width": 170, "height": 177,
    "title": {"text": "E", "dx": -30, "dy": -22},
    "layer": [
     {"data": {"name": "ebox"}, "mark": {"type": "rule", "color": "#222", "strokeWidth": 1},
      "encoding": {
       "x": {"field": "cat", "type": "nominal", "scale": {"domain": ["LumA", "LumB", "Basal", "Her2"], "paddingInner": 0, "paddingOuter": 0.1}, "axis": {"title": null, "labelAngle": 0}},
       "y": {"field": "lo", "type": "quantitative", "scale": {"domain": [0.46, 6.5], "nice": false, "zero": false}, "axis": {"title": "IR events (x1,000)", "values": [2, 4, 6], "format": "d", "labelOverlap": false}},
       "y2": {"field": "hi"}}},
     {"data": {"name": "ebox"}, "mark": {"type": "bar", "fill": "white", "stroke": "#222", "strokeWidth": 1, "width": {"band": 0.7}},
      "encoding": {"x": {"field": "cat", "type": "nominal"}, "y": {"field": "q1", "type": "quantitative"}, "y2": {"field": "q3"}}},
     {"data": {"name": "ebox"}, "mark": {"type": "tick", "orient": "horizontal", "size": 28, "thickness": 1.2, "color": "#222"},
      "encoding": {"x": {"field": "cat", "type": "nominal"}, "y": {"field": "med", "type": "quantitative"}}},
     {"data": {"name": "eout"}, "mark": {"type": "circle", "size": 9, "color": "#111", "opacity": 1},
      "encoding": {"x": {"field": "cat", "type": "nominal"}, "y": {"field": "v", "type": "quantitative"}}},
     {"data": {"name": "esig"}, "mark": {"type": "rule", "color": "#555", "strokeWidth": 1},
      "encoding": {"x": {"field": "from", "type": "nominal", "bandPosition": 0.5}, "x2": {"field": "to", "bandPosition": 0.5}, "y": {"field": "y", "type": "quantitative"}}},
     {"data": {"name": "esig"}, "mark": {"type": "rule", "color": "#555", "strokeWidth": 1},
      "encoding": {"x": {"field": "from", "type": "nominal"}, "y": {"field": "yend", "type": "quantitative"}, "y2": {"field": "y"}}},
     {"data": {"name": "esig"}, "mark": {"type": "rule", "color": "#555", "strokeWidth": 1},
      "encoding": {"x": {"field": "to", "type": "nominal"}, "y": {"field": "yend", "type": "quantitative"}, "y2": {"field": "y"}}},
     {"data": {"name": "esig"}, "transform": [{"filter": "!datum.between"}],
      "mark": {"type": "text", "dy": -2, "baseline": "alphabetic", "fontSize": 10.5, "color": "#4d4d4d"},
      "encoding": {"x": {"field": "mid", "type": "nominal"}, "y": {"field": "y", "type": "quantitative"}, "text": {"field": "label"}}},
     {"data": {"name": "esig"}, "transform": [{"filter": "datum.between"}],
      "mark": {"type": "text", "dy": -2, "dx": 20.25, "baseline": "alphabetic", "fontSize": 10.5, "color": "#4d4d4d"},
      "encoding": {"x": {"field": "mid", "type": "nominal"}, "y": {"field": "y", "type": "quantitative"}, "text": {"field": "label"}}}
    ]},
   {"width": 126, "height": 177,
    "title": {"text": "F", "dx": -30, "dy": 11},
    "layer": [
     {"data": {"name": "fbox"}, "mark": {"type": "rule", "color": "#222", "strokeWidth": 1},
      "encoding": {
       "x": {"field": "cat", "type": "nominal", "scale": {"domain": ["I", "II", "III"], "paddingInner": 0, "paddingOuter": 0.1}, "axis": {"title": "Tumour Stage", "labelAngle": 0, "titlePadding": 0}},
       "y": {"field": "lo", "type": "quantitative", "scale": {"domain": [0.49, 6.06], "nice": false, "zero": false}, "axis": {"title": "IR events (x1,000)", "values": [1, 2, 3, 4, 5, 6], "format": "d", "labelOverlap": false, "labelSeparation": -30, "labelBound": false}},
       "y2": {"field": "hi"}}},
     {"data": {"name": "fbox"}, "mark": {"type": "bar", "fill": "white", "stroke": "#222", "strokeWidth": 1, "width": {"band": 0.7}},
      "encoding": {"x": {"field": "cat", "type": "nominal"}, "y": {"field": "q1", "type": "quantitative"}, "y2": {"field": "q3"}}},
     {"data": {"name": "fbox"}, "mark": {"type": "tick", "orient": "horizontal", "size": 27, "thickness": 1.2, "color": "#222"},
      "encoding": {"x": {"field": "cat", "type": "nominal"}, "y": {"field": "med", "type": "quantitative"}}},
     {"data": {"name": "fout"}, "mark": {"type": "circle", "size": 6, "color": "#333", "opacity": 1},
      "encoding": {"x": {"field": "cat", "type": "nominal"}, "y": {"field": "v", "type": "quantitative"}}},
     {"data": {"name": "fsig"}, "mark": {"type": "rule", "color": "#555", "strokeWidth": 1},
      "encoding": {"x": {"field": "from", "type": "nominal", "bandPosition": 0.5}, "x2": {"field": "to", "bandPosition": 0.5}, "y": {"field": "y", "type": "quantitative"}}},
     {"data": {"name": "fsig"}, "mark": {"type": "rule", "color": "#555", "strokeWidth": 1},
      "encoding": {"x": {"field": "from", "type": "nominal"}, "y": {"field": "yend", "type": "quantitative"}, "y2": {"field": "y"}}},
     {"data": {"name": "fsig"}, "mark": {"type": "rule", "color": "#555", "strokeWidth": 1},
      "encoding": {"x": {"field": "to", "type": "nominal"}, "y": {"field": "yend", "type": "quantitative"}, "y2": {"field": "y"}}},
     {"data": {"name": "fsig"}, "transform": [{"filter": "!datum.between"}],
      "mark": {"type": "text", "dy": -2, "baseline": "alphabetic", "fontSize": 10.5, "color": "#4d4d4d"},
      "encoding": {"x": {"field": "mid", "type": "nominal"}, "y": {"field": "y", "type": "quantitative"}, "text": {"field": "label"}}},
     {"data": {"name": "fsig"}, "transform": [{"filter": "datum.between"}],
      "mark": {"type": "text", "dy": -2, "dx": 19.7, "baseline": "alphabetic", "fontSize": 10.5, "color": "#4d4d4d"},
      "encoding": {"x": {"field": "mid", "type": "nominal"}, "y": {"field": "y", "type": "quantitative"}, "text": {"field": "label"}}}
    ]}
  ], "spacing": 33, "bounds": "flush",
  "resolve": {"scale": {"color": "independent", "size": "independent", "fill": "independent"}, "legend": {"color": "independent", "size": "independent"}}},
  {"width": 180, "height": 178,
   "title": {"text": "G", "dx": -36, "dy": -25},
   "layer": [
    {"data": {"name": "km"}, "mark": {"type": "line", "interpolate": "step-after", "strokeWidth": 1.6},
     "encoding": {
      "x": {"field": "t", "type": "quantitative", "scale": {"domain": [-7.3, 156.4], "nice": false, "zero": false}, "axis": {"title": "Survival (months)", "values": [0, 50, 100, 150], "format": "d", "titlePadding": 0}},
      "y": {"field": "s", "type": "quantitative", "scale": {"domain": [-0.055, 1.037], "nice": false, "zero": false}, "axis": {"title": "Survival Probability", "values": [0, 0.25, 0.5, 0.75, 1], "format": ".2f", "labelOverlap": false}},
      "color": {"field": "grp", "type": "nominal", "scale": {"domain": ["IR = High", "IR = Low"], "range": ["#E41A1C", "#3A7DBF"]},
       "legend": {"title": null, "orient": "none", "legendX": 5, "legendY": 124, "symbolType": "M-1,0H1M0,-0.6V0.6", "symbolStrokeWidth": 1.5, "symbolSize": 100, "labelFontSize": 11, "rowPadding": 0, "labelOffset": 3}}}},
    {"data": {"name": "cens"}, "mark": {"type": "point", "shape": "M-1,0H1M0,-1V1", "filled": false, "size": 25, "strokeWidth": 1, "opacity": 0.9},
     "encoding": {"x": {"field": "t", "type": "quantitative"}, "y": {"field": "s", "type": "quantitative"}, "color": {"field": "grp", "type": "nominal"}}},
    {"data": {"values": [{}]}, "mark": {"type": "text", "align": "left", "baseline": "alphabetic", "fontWeight": "bold", "fontSize": 10.5, "color": "#222"},
     "encoding": {"x": {"datum": 0, "type": "quantitative"}, "y": {"datum": 0.29, "type": "quantitative"}, "text": {"value": "LumB"}}},
    {"data": {"values": [{}]}, "mark": {"type": "text", "align": "left", "baseline": "alphabetic", "fontSize": 10.5, "color": "#222"},
     "encoding": {"x": {"datum": 29, "type": "quantitative"}, "y": {"datum": 0.29, "type": "quantitative"}, "text": {"value": "(n = 140)"}}},
    {"data": {"values": [{}]}, "mark": {"type": "text", "align": "left", "baseline": "alphabetic", "fontSize": 10.5, "color": "#222"},
     "encoding": {"x": {"datum": 0, "type": "quantitative"}, "y": {"datum": 0.07, "type": "quantitative"}, "text": {"value": "p = 0.021"}}}
   ]}
 ], "spacing": 569, "bounds": "flush",
 "resolve": {"scale": {"color": "independent", "size": "independent", "fill": "independent"}, "legend": {"color": "independent", "size": "independent"}}}
]
}
